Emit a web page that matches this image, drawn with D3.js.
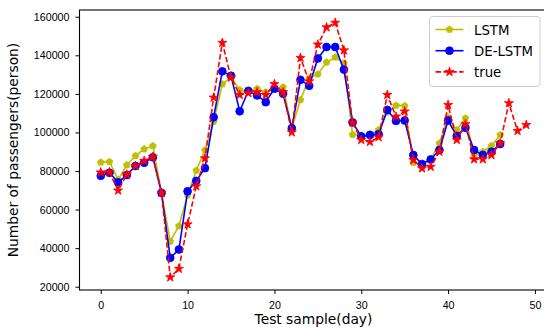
<!DOCTYPE html>
<html>
<head>
<meta charset="utf-8">
<script src="https://cdn.jsdelivr.net/npm/d3@7"></script>
<style>
  body { margin: 0; background: #fff; }
  svg { display: block; font-family: "DejaVu Sans", sans-serif; }
  .axis text { font-size: 10.7px; fill: #000; }
  .axis line, .axis path { stroke: #000; stroke-width: 1; }
</style>
</head>
<body>
<svg id="chart" width="544" height="329"></svg>
<script>

// predictions of daily passengers (test samples)
let lstm = [84500, 84800, 75500, 83100, 87900, 91400, 93000, 68650, 43500, 51500,
            67500, 80300, 90900, 105600, 125100, 128700, 122000, 121200, 122700, 120900,
            122700, 123500, 102200, 116900, 128200, 130200, 136400, 139000, 135900, 98900,
            98400, 99200, 101300, 110500, 114000, 113800, 84300, 84000, 86000, 94400,
            107900, 101300, 107400, 88300, 90000, 93100, 98700];

let deLstm = [77500, 79100, 74100, 77900, 82600, 84300, 87100, 68650, 35000, 39300,
              69500, 74900, 81500, 107900, 131700, 129400, 111000, 121600, 119200, 115700,
              122700, 120100, 102200, 127300, 124200, 138400, 144300, 144300, 132600, 105200,
              98000, 98700, 99100, 111700, 106000, 106200, 88300, 83600, 86000, 90900,
              106200, 98200, 102500, 90900, 88300, 90000, 94000];

let trueVals = [79300, 79400, 69900, 78200, 82700, 85300, 87400, 68650, 24900, 29300,
                52400, 72100, 86600, 118100, 146500, 128500, 119500, 120400, 120900, 119500,
                125100, 120900, 100100, 138700, 126500, 145600, 154500, 156900, 142600, 105100,
                96100, 95100, 97600, 119500, 108200, 110900, 85700, 81400, 82200, 90000,
                114300, 96100, 104400, 86100, 86100, 88300, 94400, 115200, 100800, 103900];

let xTicks = [0, 10, 20, 30, 40, 50];
let yTicks = [20000, 40000, 60000, 80000, 100000, 120000, 140000, 160000];

let seriesNames = ["LSTM", "DE-LSTM", "true"];

// pentagon marker, matplotlib style 'p'
let symbolPentagon = {
    draw: function(context, size) {
        let r = Math.sqrt(size / 2.378);
        for (let k = 0; k < 5; k++) {
            let a = -Math.PI / 2 + k * 2 * Math.PI / 5;
            if (k == 0) context.moveTo(r * Math.cos(a), r * Math.sin(a));
            else context.lineTo(r * Math.cos(a), r * Math.sin(a));
        }
        context.closePath();
    }
};

let series = [
    {name: seriesNames[0], data: lstm, color: "#bfbf00", dash: null, symbol: symbolPentagon, size: 30},
    {name: seriesNames[1], data: deLstm, color: "#0000ff", dash: null, symbol: d3.symbolCircle, size: 48},
    {name: seriesNames[2], data: trueVals, color: "#ff0000", dash: "5.5,2.4", symbol: d3.symbolStar, size: 26}
];

let svg = d3.select("#chart"),
    margin = {top: 10, right: -3.5, bottom: 39, left: 79.5},
    width = svg.attr("width") - margin.left - margin.right,
    height = svg.attr("height") - margin.top - margin.bottom;

// matplotlib-like 5% padding of the data limits
let nMax = trueVals.length - 1;
let allVals = lstm.concat(deLstm, trueVals);
let yMin = d3.min(allVals), yMax = d3.max(allVals);
let yPad = (yMax - yMin) * 0.05;

let x = d3.scaleLinear().domain([-nMax * 0.05, nMax * 1.05]).range([0, width]);
let y = d3.scaleLinear().domain([yMin - yPad, yMax + yPad]).range([height, 0]);

let g = svg.append("g")
    .attr("transform", "translate(" + margin.left + "," + margin.top + ")");

// lines and markers
let line = d3.line()
    .x(function(d, i) { return x(i); })
    .y(function(d) { return y(d); });

series.forEach(function(s) {
    g.append("path")
        .datum(s.data)
        .attr("fill", "none")
        .attr("stroke", s.color)
        .attr("stroke-width", 1.6)
        .attr("stroke-dasharray", s.dash)
        .attr("d", line);

    g.selectAll(null)
        .data(s.data)
        .enter().append("path")
        .attr("transform", function(d, i) { return "translate(" + x(i) + "," + y(d) + ")"; })
        .attr("d", d3.symbol().type(s.symbol).size(s.size))
        .attr("fill", s.color)
        .attr("stroke", s.color)
        .attr("stroke-width", 0.8);
});

// axes
g.append("g")
    .attr("class", "axis")
    .attr("transform", "translate(0," + height + ")")
    .call(d3.axisBottom(x).tickValues(xTicks).tickSize(4).tickSizeOuter(0).tickPadding(7.5))
    .select(".domain").remove();

g.append("g")
    .attr("class", "axis")
    .call(d3.axisLeft(y).tickValues(yTicks).tickFormat(d3.format("d")).tickSize(4).tickSizeOuter(0).tickPadding(6))
    .select(".domain").remove();

// frame
g.append("rect")
    .attr("x", 0)
    .attr("y", 0)
    .attr("width", width)
    .attr("height", height)
    .attr("fill", "none")
    .attr("stroke", "#000")
    .attr("stroke-width", 1.1);

// axis labels
svg.append("text")
    .attr("x", margin.left + width / 2)
    .attr("y", 323.5)
    .style("text-anchor", "middle")
    .style("font-size", "13.8px")
    .text("Test sample(day)");

svg.append("text")
    .attr("transform", "rotate(-90)")
    .attr("x", -(margin.top + height / 2))
    .attr("y", 18)
    .style("text-anchor", "middle")
    .style("font-size", "13.8px")
    .text("Number of passengers(person)");

// legend
let legend = svg.append("g").attr("transform", "translate(429.5,16.5)");

legend.append("rect")
    .attr("width", 110.5)
    .attr("height", 70)
    .attr("rx", 3)
    .attr("fill", "#fff")
    .attr("fill-opacity", 0.8)
    .attr("stroke", "#cccccc")
    .attr("stroke-width", 1);

series.forEach(function(s, k) {
    let row = legend.append("g").attr("transform", "translate(0," + (13 + k * 21.2) + ")");
    row.append("line")
        .attr("x1", 6).attr("x2", 34)
        .attr("stroke", s.color)
        .attr("stroke-width", 1.6)
        .attr("stroke-dasharray", s.dash);
    row.append("path")
        .attr("transform", "translate(20,0)")
        .attr("d", d3.symbol().type(s.symbol).size(s.size))
        .attr("fill", s.color)
        .attr("stroke", s.color)
        .attr("stroke-width", 0.8);
    row.append("text")
        .attr("x", 44.5)
        .attr("y", 5)
        .style("font-size", "13.3px")
        .text(s.name);
});

</script>
</body>
</html>
